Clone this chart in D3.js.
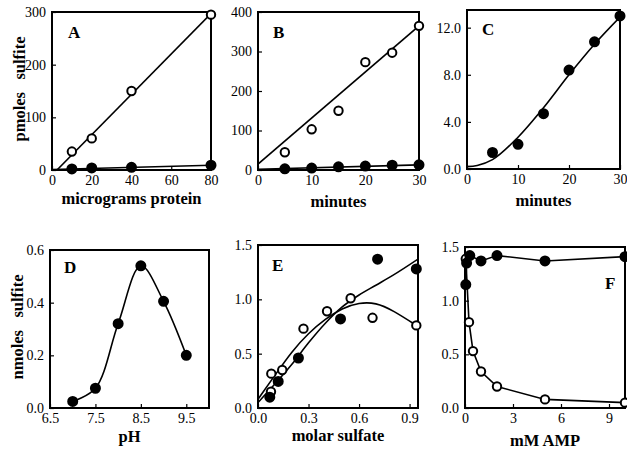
<!DOCTYPE html>
<html>
<head>
<meta charset="utf-8">
<script src="https://cdn.jsdelivr.net/npm/d3@7"></script>
<style>
  body { margin: 0; background: #fff; }
  svg { display: block; }
  text { font-family: "Liberation Serif", "DejaVu Serif", serif; fill: #000; }
  .tick-label { font-size: 14px; }
  .title { font-size: 16.5px; font-weight: bold; white-space: pre; }
  .letter { font-size: 17px; font-weight: bold; }
</style>
</head>
<body>
<svg class="chart"></svg>
<script>
const width = 627,
      height = 453

// A: sulfite vs protein
const aOpen = [[10, 35], [20, 60], [40, 150], [80, 295]]
const aFilled = [[10, 2], [20, 4], [40, 5], [80, 9]]
const aFitOpen = [[2.5, 0], [80, 297]]
const aFitFilled = [[0, 1], [80, 9]]

// B: sulfite vs time
const bOpen = [[5, 45], [10, 103], [15, 150], [20, 273], [25, 297], [30, 365]]
const bFilled = [[5, 3], [10, 5], [15, 8], [20, 10], [25, 12], [30, 13]]
const bFitOpen = [[0, 15], [30, 365]]
const bFitFilled = [[0, 2], [30, 13]]

// C
const cFilled = [[5, 1.4], [10, 2.1], [15, 4.7], [20, 8.4], [25, 10.8], [30, 13.0]]
const cFit = [[0, 0.2], [2, 0.3], [5, 0.8], [10, 2.7], [15, 5.2], [20, 8.0], [25, 10.6], [30, 12.9]]

// D: pH
const dFilled = [[7.0, 0.025], [7.5, 0.075], [8.0, 0.32], [8.5, 0.54], [9.0, 0.405], [9.5, 0.20]]

// E: molar sulfate
const eFilled = [[0.07, 0.1], [0.12, 0.245], [0.24, 0.46], [0.49, 0.82], [0.71, 1.37], [0.94, 1.28]]
const eOpen = [[0.077, 0.15], [0.079, 0.316], [0.144, 0.35], [0.27, 0.73], [0.41, 0.89], [0.55, 1.01], [0.68, 0.83], [0.94, 0.76]]
const eFitFilled = [[0, 0.05], [0.1, 0.22], [0.2, 0.4], [0.3, 0.6], [0.4, 0.78], [0.5, 0.93], [0.6, 1.04], [0.7, 1.13], [0.8, 1.22], [0.95, 1.37]]
const eFitOpen = [[0, 0.08], [0.1, 0.3], [0.2, 0.52], [0.3, 0.69], [0.4, 0.82], [0.5, 0.92], [0.6, 0.97], [0.7, 0.97], [0.8, 0.9], [0.95, 0.75]]

// F: mM AMP
const fFilled = [[0.05, 1.15], [0.1, 1.35], [0.3, 1.42], [1, 1.37], [2, 1.42], [5, 1.37], [10, 1.41]]
const fOpen = [[0.05, 1.39], [0.25, 0.8], [0.5, 0.53], [1, 0.34], [2, 0.2], [5, 0.08], [10, 0.05]]

var chart = d3.select(".chart")
    .attr("width", width)
    .attr("height", height)

function panel(o) {
  var g = chart.append("g").attr("transform", `translate(${o.left},${o.top})`)
  var w = o.width, h = o.height

  var x = d3.scaleLinear().domain(o.xDomain).range([0, w])
  var y = d3.scaleLinear().domain(o.yDomain).range([h, 0])

  var id = "clip" + o.letter
  g.append("clipPath").attr("id", id)
    .append("rect").attr("width", w).attr("height", h)

  // axes with inward ticks
  g.append("g")
      .attr("transform", `translate(0,${h})`)
      .call(d3.axisBottom(x).tickValues(o.xTicks).tickSize(-4).tickPadding(5).tickFormat(o.xFormat))
      .call(sel => sel.select(".domain").remove())
  g.append("g")
      .call(d3.axisLeft(y).tickValues(o.yTicks).tickSize(-4).tickPadding(6).tickFormat(o.yFormat))
      .call(sel => sel.select(".domain").remove())
  g.selectAll(".tick text").attr("class", "tick-label").attr("font-size", null).attr("font-family", null)
  g.selectAll(".tick line").attr("stroke-width", 1.2)

  g.append("rect")
      .attr("width", w).attr("height", h)
      .attr("fill", "none").attr("stroke", "#000").attr("stroke-width", 2)

  var plot = g.append("g").attr("clip-path", `url(#${id})`)

  ;(o.lines || []).forEach(l => {
    plot.append("path")
        .datum(l.data)
        .attr("fill", "none")
        .attr("stroke", "#000")
        .attr("stroke-width", 1.6)
        .attr("d", d3.line().x(d => x(d[0])).y(d => y(d[1])).curve(l.curve || d3.curveLinear))
  })

  ;(o.points || []).forEach(p => {
    g.append("g").selectAll("circle")
      .data(p.data)
      .enter()
      .append("circle")
        .attr("cx", d => x(d[0]))
        .attr("cy", d => y(d[1]))
        .attr("r", p.filled ? 4.5 : 4.2)
        .attr("fill", p.filled ? "#000" : "#fff")
        .attr("stroke", "#000")
        .attr("stroke-width", 2)
  })

  g.append("text").attr("class", "letter")
      .attr("x", o.letterPos[0]).attr("y", o.letterPos[1])
      .text(o.letter)

  g.append("text").attr("class", "title")
      .attr("x", w / 2).attr("y", h + o.xTitleY)
      .attr("text-anchor", "middle")
      .text(o.xTitle)

  if (o.yTitle) {
    g.append("text").attr("class", "title")
        .attr("transform", `translate(${-27},${h / 2 - 2}) rotate(-90)`)
        .attr("text-anchor", "middle")
        .text(o.yTitle)
  }
}

const f0 = d3.format("d"), f1 = d3.format(".1f")

panel({
  letter: "A", left: 52, top: 12, width: 159, height: 158,
  xDomain: [0, 80], yDomain: [0, 300],
  xTicks: [0, 20, 40, 60, 80], yTicks: [0, 100, 200, 300], xFormat: f0, yFormat: f0,
  letterPos: [16, 26], xTitle: "micrograms protein", xTitleY: 34, yTitle: "pmoles   sulfite",
  lines: [{ data: aFitOpen }, { data: aFitFilled }],
  points: [{ data: aOpen, filled: false }, { data: aFilled, filled: true }]
})

panel({
  letter: "B", left: 258, top: 12, width: 161, height: 158,
  xDomain: [0, 30], yDomain: [0, 400],
  xTicks: [0, 10, 20, 30], yTicks: [0, 100, 200, 300, 400], xFormat: f0, yFormat: f0,
  letterPos: [15, 26], xTitle: "minutes", xTitleY: 37,
  lines: [{ data: bFitOpen }, { data: bFitFilled }],
  points: [{ data: bOpen, filled: false }, { data: bFilled, filled: true }]
})

panel({
  letter: "C", left: 467, top: 10, width: 153, height: 159,
  xDomain: [0, 30], yDomain: [0, 13.5],
  xTicks: [0, 10, 20, 30], yTicks: [0, 4, 8, 12], xFormat: f0, yFormat: f1,
  letterPos: [15, 25], xTitle: "minutes", xTitleY: 37,
  lines: [{ data: cFit, curve: d3.curveMonotoneX }],
  points: [{ data: cFilled, filled: true }]
})

panel({
  letter: "D", left: 50, top: 250, width: 159, height: 158,
  xDomain: [6.5, 10], yDomain: [0, 0.6],
  xTicks: [6.5, 7.5, 8.5, 9.5], yTicks: [0, 0.2, 0.4, 0.6], xFormat: f1, yFormat: f1,
  letterPos: [14, 23], xTitle: "pH", xTitleY: 34, yTitle: "nmoles   sulfite",
  lines: [{ data: dFilled, curve: d3.curveCatmullRom }],
  points: [{ data: dFilled, filled: true }]
})

panel({
  letter: "E", left: 258, top: 245, width: 160, height: 163,
  xDomain: [0, 0.95], yDomain: [0, 1.5],
  xTicks: [0, 0.3, 0.6, 0.9], yTicks: [0, 0.5, 1.0, 1.5], xFormat: f1, yFormat: f1,
  letterPos: [14, 26], xTitle: "molar sulfate", xTitleY: 33,
  lines: [{ data: eFitFilled, curve: d3.curveMonotoneX }, { data: eFitOpen, curve: d3.curveBasis }],
  points: [{ data: eOpen, filled: false }, { data: eFilled, filled: true }]
})

panel({
  letter: "F", left: 465, top: 247, width: 160, height: 161,
  xDomain: [0, 10], yDomain: [0, 1.5],
  xTicks: [0, 3, 6, 9], yTicks: [0, 0.5, 1.0, 1.5], xFormat: f0, yFormat: f1,
  letterPos: [140, 42], xTitle: "mM AMP", xTitleY: 38,
  lines: [{ data: fFilled }, { data: fOpen }],
  points: [{ data: fOpen, filled: false }, { data: fFilled, filled: true }]
})
</script>
</body>
</html>
